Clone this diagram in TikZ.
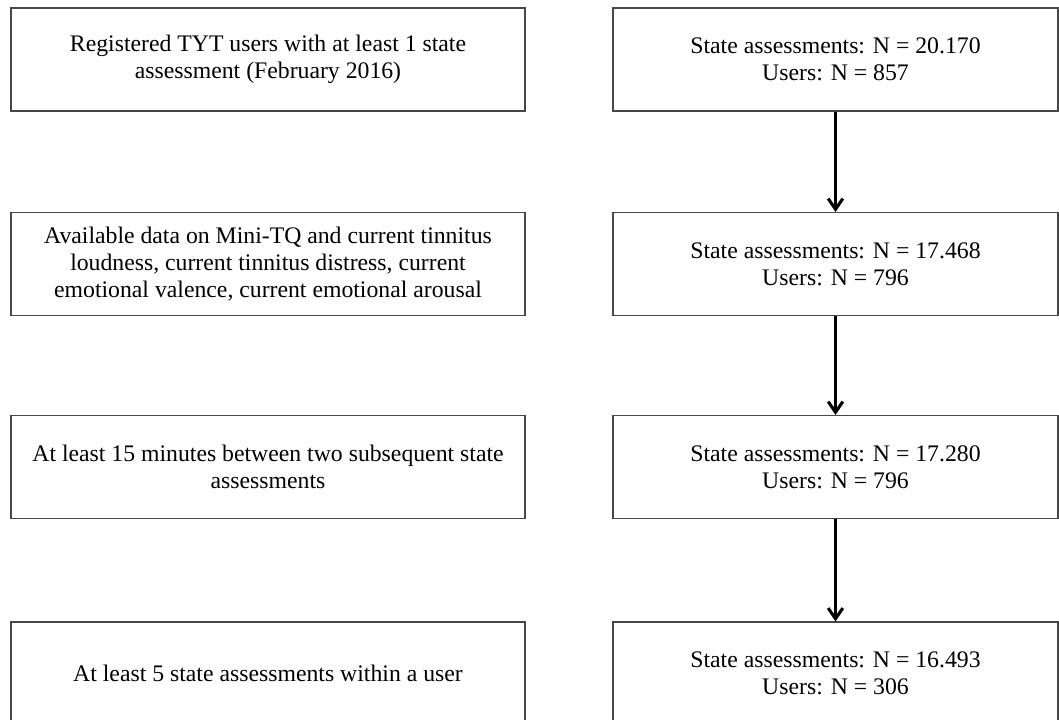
\documentclass[tikz,border=0pt]{standalone}
\usepackage{fontspec}
\setmainfont{Liberation Serif}
\usetikzlibrary{arrows.meta}
\begin{document}
\begin{tikzpicture}[x=0.75pt,y=-0.75pt,
  box/.style={draw=black!72,line width=1.1pt,inner sep=0pt,align=center,
    font=\fontsize{17.8}{20}\selectfont,minimum height=77pt},
  leftbox/.style={box,minimum width=385.5pt},
  rightbox/.style={box,minimum width=333.75pt},
  flow/.style={line width=2.3pt,-{Straight Barb[length=8pt,width=11pt,line width=2.3pt]}}]
\clip (0,0) rectangle (1059,719);
\fill[white] (0,0) rectangle (1059,719);
\node[leftbox] (l1) at (268,59.5) {Registered TYT users with at least 1 state\\assessment (February 2016)};
\node[rightbox] (r1) at (835.5,59.5) {State assessments: N = 20.170\\Users: N = 857};
\node[leftbox] (l2) at (268,264) {Available data on Mini-TQ and current tinnitus\\loudness, current tinnitus distress, current\\emotional valence, current emotional arousal};
\node[rightbox] (r2) at (835.5,264) {State assessments: N = 17.468\\Users: N = 796};
\node[leftbox] (l3) at (268,467) {At least 15 minutes between two subsequent state\\assessments};
\node[rightbox] (r3) at (835.5,467) {State assessments: N = 17.280\\Users: N = 796};
\node[leftbox] (l4) at (268,673.5) {At least 5 state assessments within a user};
\node[rightbox] (r4) at (835.5,673.5) {State assessments: N = 16.493\\Users: N = 306};
\draw[flow] (r1.south) -- (r2.north);
\draw[flow] (r2.south) -- (r3.north);
\draw[flow] (r3.south) -- (r4.north);
\end{tikzpicture}
\end{document}
